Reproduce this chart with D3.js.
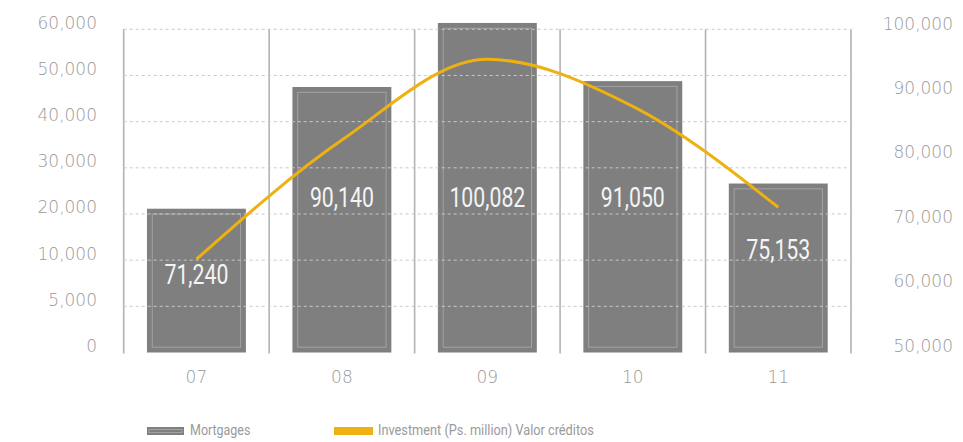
<!DOCTYPE html>
<html>
<head>
<meta charset="utf-8">
<script src="https://cdn.jsdelivr.net/npm/d3@7/dist/d3.min.js"></script>
<style>
  html, body { margin: 0; padding: 0; background: #ffffff; }
  svg { display: block; }
</style>
</head>
<body>
<svg id="chart" width="963" height="442"></svg>
<script>
// Years on the category axis
const years = ["07", "08", "09", "10", "11"];
// Mortgages (bars, right axis)
const mortgages = [71240, 90140, 100082, 91050, 75153];
// Investment, Ps. million (line, left axis)
const investment = [10200, 36000, 53500, 43300, 21450];
// Axis tick values
const leftTicks = [0, 5000, 10000, 20000, 30000, 40000, 50000, 60000];
const rightTicks = [50000, 60000, 70000, 80000, 90000, 100000];
// Legend entries
const legendLabels = ["Mortgages", "Investment (Ps. million) Valor créditos"];

const svg = d3.select("#chart");
const plot = { left: 123.7, right: 851, top: 29.3, bottom: 352.5 };

const axisFont = "'DejaVu Sans', sans-serif";
const condFont = "Roboto, 'Liberation Sans', sans-serif";
const axisColor = "#999999";
const barColor = "#7f7f80";
const lineColor = "#eeb111";

const x = d3.scaleBand()
  .domain(years)
  .range([plot.left, plot.right])
  .paddingInner(0.32)
  .paddingOuter(0.16);

// Left axis: evenly spaced ticks with uneven values (piecewise scale)
const yLeft = d3.scaleLinear()
  .domain(leftTicks)
  .range(leftTicks.map((d, i) => plot.bottom - i * (plot.bottom - plot.top) / (leftTicks.length - 1)));

// Right axis for the bars
const yRight = d3.scaleLinear()
  .domain([50000, 100000])
  .range([345.5, 23.5]);

// Column separators
const step = x.step();
svg.append("g")
  .selectAll("line")
  .data(d3.range(years.length + 1))
  .join("line")
  .attr("x1", i => plot.left + i * step)
  .attr("x2", i => plot.left + i * step)
  .attr("y1", plot.top)
  .attr("y2", plot.bottom + 1)
  .attr("stroke", "#b3b3b3")
  .attr("stroke-width", 1.6);

// Bars
const bars = svg.append("g");
bars.selectAll("rect.bar")
  .data(mortgages)
  .join("rect")
  .attr("class", "bar")
  .attr("x", (d, i) => x(years[i]))
  .attr("y", d => yRight(d))
  .attr("width", x.bandwidth())
  .attr("height", d => plot.bottom - yRight(d))
  .attr("fill", barColor);

bars.selectAll("rect.inner")
  .data(mortgages)
  .join("rect")
  .attr("class", "inner")
  .attr("x", (d, i) => x(years[i]) + 5.3)
  .attr("y", d => yRight(d) + 5.3)
  .attr("width", x.bandwidth() - 10.6)
  .attr("height", d => plot.bottom - yRight(d) - 10.6)
  .attr("fill", "none")
  .attr("stroke", "#a3a3a4")
  .attr("stroke-width", 1);

// Dashed gridlines (drawn over the bars)
svg.append("g")
  .selectAll("line")
  .data(leftTicks.slice(1))
  .join("line")
  .attr("x1", plot.left)
  .attr("x2", plot.right)
  .attr("y1", d => yLeft(d))
  .attr("y2", d => yLeft(d))
  .attr("stroke", "#c9c9c9")
  .attr("stroke-width", 1)
  .attr("stroke-dasharray", "3,3");

// Bar value labels: a fixed band for tall bars, just below the top for short ones
const labelFloor = plot.top + 0.52 * (plot.bottom - plot.top);
svg.append("g")
  .selectAll("text")
  .data(mortgages)
  .join("text")
  .attr("transform", (d, i) =>
    `translate(${x(years[i]) + x.bandwidth() / 2},${Math.max(yRight(d) + 66, labelFloor)}) scale(0.76,1)`)
  .attr("text-anchor", "middle")
  .attr("dominant-baseline", "central")
  .attr("font-family", condFont)
  .attr("font-weight", 400)
  .attr("font-size", 28)
  .attr("fill", "#f4f4f4")
  .text(d => d3.format(",")(d));

// Investment line
const line = d3.line()
  .x((d, i) => x(years[i]) + x.bandwidth() / 2)
  .y(d => yLeft(d))
  .curve(d3.curveMonotoneX);

svg.append("path")
  .datum(investment)
  .attr("d", line)
  .attr("fill", "none")
  .attr("stroke", lineColor)
  .attr("stroke-width", 3)
  .attr("stroke-linecap", "butt");

// Left axis labels
svg.append("g")
  .selectAll("text")
  .data(leftTicks)
  .join("text")
  .attr("x", 97)
  .attr("y", d => yLeft(d) - 6.5)
  .attr("text-anchor", "end")
  .attr("dominant-baseline", "central")
  .attr("font-family", axisFont)
  .attr("font-weight", 200)
  .attr("font-size", 17)
  .attr("fill", axisColor)
  .text(d => d3.format(",")(d));

// Right axis labels
svg.append("g")
  .selectAll("text")
  .data(rightTicks)
  .join("text")
  .attr("x", 953)
  .attr("y", d => yRight(d))
  .attr("text-anchor", "end")
  .attr("dominant-baseline", "central")
  .attr("font-family", axisFont)
  .attr("font-weight", 200)
  .attr("font-size", 17)
  .attr("fill", axisColor)
  .text(d => d3.format(",")(d));

// Category labels
svg.append("g")
  .selectAll("text")
  .data(years)
  .join("text")
  .attr("x", d => x(d) + x.bandwidth() / 2)
  .attr("y", 377)
  .attr("text-anchor", "middle")
  .attr("dominant-baseline", "central")
  .attr("font-family", axisFont)
  .attr("font-weight", 200)
  .attr("font-size", 17)
  .attr("fill", axisColor)
  .text(d => d);

// Legend
const legend = svg.append("g");
const lg0 = legend.append("g").attr("transform", "translate(147,427)");
lg0.append("rect").attr("width", 37).attr("height", 8).attr("fill", barColor);
lg0.append("rect").attr("x", 2).attr("y", 2.5).attr("width", 33).attr("height", 3)
  .attr("fill", "none").attr("stroke", "#a3a3a4").attr("stroke-width", 1);
lg0.append("text").attr("transform", "translate(43,8) scale(0.86,1)")
  .attr("font-family", condFont).attr("font-size", 14.5).attr("fill", "#9a9a9a")
  .text(legendLabels[0]);

const lg1 = legend.append("g").attr("transform", "translate(334,427)");
lg1.append("rect").attr("width", 39).attr("height", 8).attr("fill", lineColor);
lg1.append("text").attr("transform", "translate(44,8) scale(0.88,1)")
  .attr("font-family", condFont).attr("font-size", 14.5).attr("fill", "#9a9a9a")
  .text(legendLabels[1]);
</script>
</body>
</html>
